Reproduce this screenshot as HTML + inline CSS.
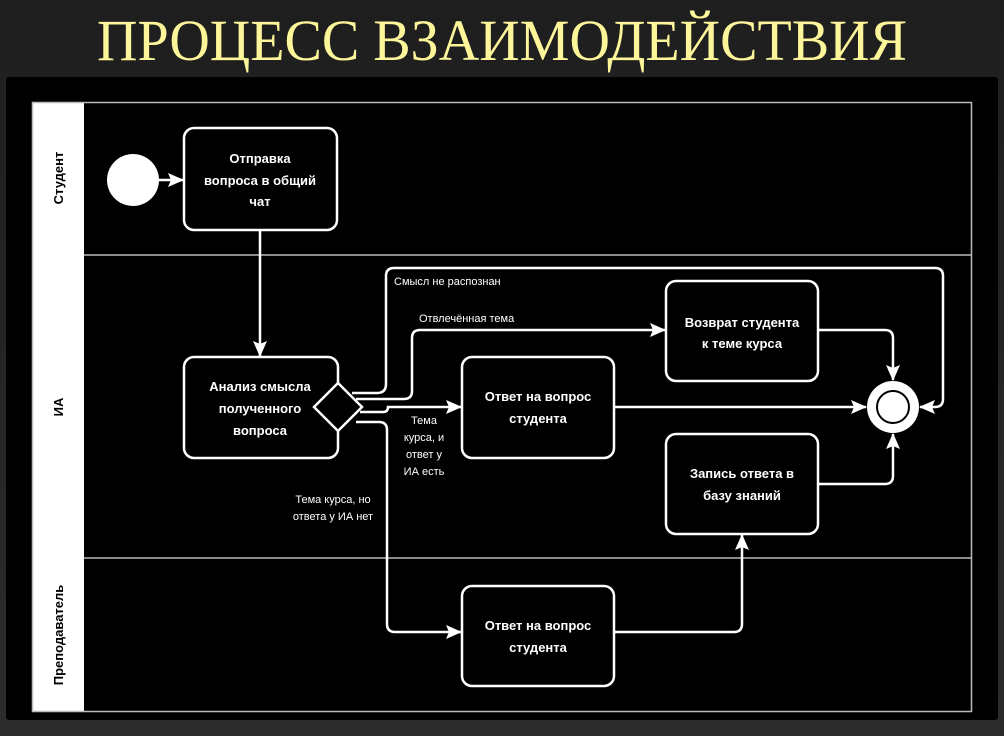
<!DOCTYPE html>
<html><head><meta charset="utf-8"><style>
html,body{margin:0;padding:0;width:1004px;height:736px;overflow:hidden;background:linear-gradient(#1e1e1e,#2c2c2c);}
svg{position:absolute;left:0;top:0}
</style></head><body>
<svg width="1004" height="736" viewBox="0 0 1004 736" xmlns="http://www.w3.org/2000/svg" font-family="'Liberation Sans','DejaVu Sans',sans-serif">
<defs>
<marker id="b" markerWidth="16" markerHeight="16" refX="15" refY="8" orient="auto" markerUnits="userSpaceOnUse" viewBox="0 0 16 16">
<path d="M0,1 L16,8 L0,15 L3,8 Z" fill="#fff"/></marker>
</defs>
<text x="502" y="60" text-anchor="middle" font-family="'Liberation Serif','DejaVu Serif',serif" font-size="58" fill="#fdf59a" textLength="810" lengthAdjust="spacingAndGlyphs">ПРОЦЕСС ВЗАИМОДЕЙСТВИЯ</text>
<rect x="6" y="77" width="992" height="643" rx="3" fill="#000"/>
<rect x="32" y="102" width="52" height="610" fill="#fff"/>
<rect x="32.5" y="102.5" width="939" height="609" fill="none" stroke="#bbb" stroke-width="1.5"/>
<line x1="84" y1="255" x2="972" y2="255" stroke="#bbb" stroke-width="1.5"/>
<line x1="84" y1="558" x2="972" y2="558" stroke="#bbb" stroke-width="1.5"/>
<g font-weight="bold" font-size="13" fill="#000" text-anchor="middle">
<text transform="translate(63,178) rotate(-90)">Студент</text>
<text transform="translate(63,407) rotate(-90)">ИА</text>
<text transform="translate(63,635) rotate(-90)">Преподаватель</text>
</g>
<g fill="none" stroke="#fff" stroke-width="2.5">
<rect x="184" y="128" width="153" height="102" rx="10"/>
<rect x="184" y="357" width="154" height="101" rx="10"/>
<rect x="462" y="357" width="152" height="101" rx="10"/>
<rect x="666" y="281" width="152" height="100" rx="10"/>
<rect x="666" y="434" width="152" height="100" rx="10"/>
<rect x="462" y="586" width="152" height="100" rx="10"/>
</g>
<circle cx="133" cy="180" r="26" fill="#fff"/>
<polygon points="338,383 362,407 338,431 314,407" fill="#000" stroke="#fff" stroke-width="2.5"/>
<circle cx="893" cy="407" r="26" fill="#fff"/>
<circle cx="893" cy="407" r="16" fill="#fff" stroke="#000" stroke-width="2"/>
<g fill="none" stroke="#fff" stroke-width="2.5">
<path d="M159,180 H183" marker-end="url(#b)"/>
<path d="M260,230 V356" marker-end="url(#b)"/>
<path d="M352,393 H377 Q386,393 386,384 V276 Q386,268 394,268 H935 Q943,268 943,276 V399 Q943,407 935,407 H920" marker-end="url(#b)"/>
<path d="M356,399 H404 Q412,399 412,391 V338 Q412,330 420,330 H665" marker-end="url(#b)"/>
<path d="M360,412 H383 Q388,412 388,407 H461" marker-end="url(#b)"/>
<path d="M614,407 H866" marker-end="url(#b)"/>
<path d="M818,330 H885 Q893,330 893,338 V380" marker-end="url(#b)"/>
<path d="M818,484 H885 Q893,484 893,476 V434" marker-end="url(#b)"/>
<path d="M356,422 H379 Q387,422 387,430 V624 Q387,632 395,632 H461" marker-end="url(#b)"/>
<path d="M614,632 H734 Q742,632 742,624 V535" marker-end="url(#b)"/>
</g>
<g fill="#fff" font-weight="bold" font-size="13" text-anchor="middle">
<text x="260" y="163">Отправка</text>
<text x="260" y="185">вопроса в общий</text>
<text x="260" y="206">чат</text>
<text x="260" y="391">Анализ смысла</text>
<text x="260" y="413">полученного</text>
<text x="260" y="435">вопроса</text>
<text x="538" y="401">Ответ на вопрос</text>
<text x="538" y="423">студента</text>
<text x="742" y="327">Возврат студента</text>
<text x="742" y="348">к теме курса</text>
<text x="742" y="478">Запись ответа в</text>
<text x="742" y="500">базу знаний</text>
<text x="538" y="630">Ответ на вопрос</text>
<text x="538" y="652">студента</text>
</g>
<g fill="#fff" font-size="11">
<text x="394" y="285">Смысл не распознан</text>
<text x="419" y="322">Отвлечённая тема</text>
<text x="424" y="424" text-anchor="middle">Тема</text>
<text x="424" y="441" text-anchor="middle">курса, и</text>
<text x="424" y="458" text-anchor="middle">ответ у</text>
<text x="424" y="475" text-anchor="middle">ИА есть</text>
<text x="333" y="503" text-anchor="middle">Тема курса, но</text>
<text x="333" y="520" text-anchor="middle">ответа у ИА нет</text>
</g>
</svg>
</body></html>
